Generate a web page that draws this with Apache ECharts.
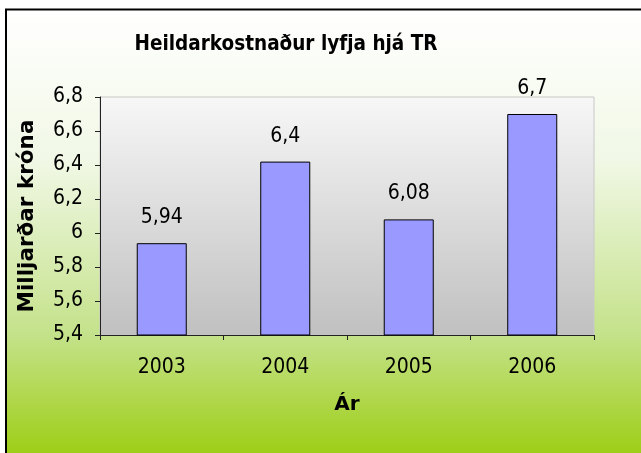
<!DOCTYPE html>
<html>
<head>
<meta charset="utf-8">
<script src="https://cdn.jsdelivr.net/npm/echarts@6/dist/echarts.min.js"></script>
<style>html,body{margin:0;padding:0;background:#fff}#c{width:641px;height:453px}</style>
</head>
<body>
<div id="c"></div>
<script>
var categories = ["2003", "2004", "2005", "2006"];
var values = [5.94, 6.42, 6.08, 6.7];
var valueLabels = ["5,94", "6,4", "6,08", "6,7"];
var yTicks = [5.4, 5.6, 5.8, 6.0, 6.2, 6.4, 6.6, 6.8];

var FONT = "'DejaVu Sans Condensed', 'DejaVu Sans', sans-serif";
var FONT_WIDE = "'DejaVu Sans', sans-serif";
var chart = echarts.init(document.getElementById('c'), null, {renderer: 'canvas'});
chart.setOption({
  animation: false,
  backgroundColor: '#ffffff',
  graphic: [{
    type: 'rect', z: -10, silent: true,
    shape: {x: 6, y: 9.5, width: 700, height: 500},
    style: {
      fill: new echarts.graphic.LinearGradient(0, 0, 0, 1, [
        {offset: 0, color: '#ffffff'},
        {offset: 0.3, color: '#f1f8e6'},
        {offset: 0.65, color: '#c4e28a'},
        {offset: 0.9, color: '#9ccd10'},
        {offset: 1, color: '#99cc00'}
      ]),
      stroke: '#000000', lineWidth: 2
    }
  }],
  title: {
    text: 'Heildarkostnaður lyfja hjá TR',
    left: 281, top: 29, textAlign: 'center',
    textStyle: {fontFamily: FONT, fontWeight: 'bold', fontSize: 20.5, color: '#000'}
  },
  grid: {
    left: 100, top: 97, right: 47, bottom: 118,
    show: true,
    borderColor: '#c8c8c8', borderWidth: 1,
    backgroundColor: new echarts.graphic.LinearGradient(0, 0, 0, 1, [
      {offset: 0, color: '#f7f7f7'},
      {offset: 1, color: '#c0c0c0'}
    ])
  },
  xAxis: {
    type: 'category',
    data: categories,
    name: 'Ár',
    nameLocation: 'middle',
    nameGap: 60,
    nameTextStyle: {fontFamily: FONT_WIDE, fontWeight: 'bold', fontSize: 20, color: '#000'},
    axisLine: {show: true, lineStyle: {color: '#222', width: 1}},
    axisTick: {show: true, alignWithLabel: false, length: 5, lineStyle: {color: '#222'}},
    axisLabel: {fontFamily: FONT, fontSize: 21, color: '#000', margin: 22},
    splitLine: {show: false}
  },
  yAxis: {
    type: 'value',
    min: 5.4, max: 6.8, interval: 0.2,
    name: 'Milljarðar króna',
    nameLocation: 'middle',
    nameGap: 62,
    nameTextStyle: {fontFamily: FONT_WIDE, fontWeight: 'bold', fontSize: 21.5, color: '#000'},
    axisLine: {show: true, lineStyle: {color: '#222', width: 1}},
    axisTick: {show: true, length: 5, lineStyle: {color: '#222'}},
    axisLabel: {
      fontFamily: FONT, fontSize: 21, color: '#000', margin: 17,
      formatter: function (v) {
        var t = yTicks.filter(function (x) { return Math.abs(x - v) < 1e-6; })[0];
        if (t === undefined) return '';
        return (Math.round(t * 10) / 10).toString().replace('.', ',');
      }
    },
    splitLine: {show: false}
  },
  series: [{
    type: 'bar',
    data: values,
    barWidth: '40.5%',
    itemStyle: {color: '#9999ff', borderColor: '#000000', borderWidth: 1},
    label: {
      show: true, position: 'top', distance: 15,
      fontFamily: FONT, fontSize: 21, color: '#000',
      formatter: function (p) { return valueLabels[p.dataIndex]; }
    }
  }]
});
</script>
</body>
</html>
